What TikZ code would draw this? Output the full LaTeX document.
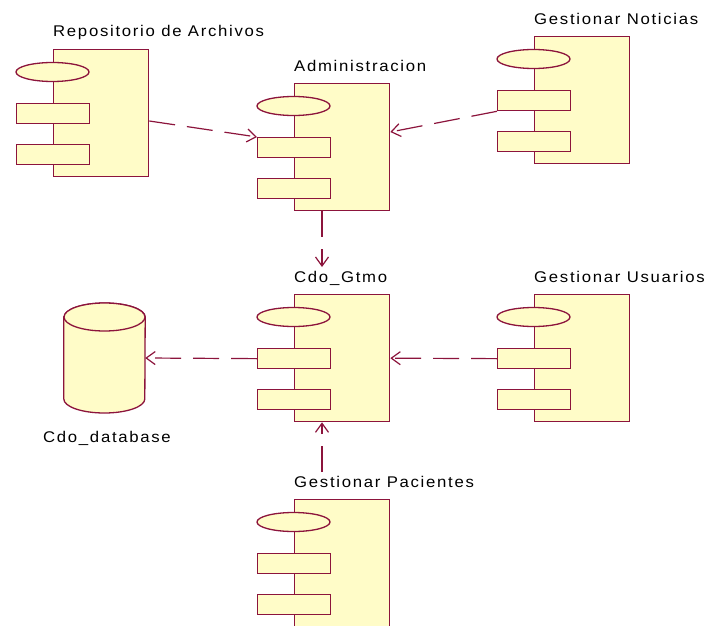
\documentclass[tikz,border=0pt]{standalone}
\usepackage{fontspec}
\usetikzlibrary{shapes.geometric,arrows.meta,calc}
\newfontfamily\lblfont[LetterSpace=11,FakeStretch=1.08]{Liberation Sans}
\definecolor{edgecol}{RGB}{140,20,60}
\definecolor{compfill}{RGB}{255,252,200}
\begin{document}
\begin{tikzpicture}[x=1pt,y=1pt,
  body/.style={draw=edgecol, fill=compfill, line width=1.3pt, inner sep=0pt,
               minimum width=95pt, minimum height=127pt},
  port/.style={draw=edgecol, fill=compfill, line width=1.3pt, inner sep=0pt,
               minimum width=73pt, minimum height=20pt},
  lbl/.style={inner sep=0pt, font=\lblfont\fontsize{15.5}{18}\selectfont, text=black},
  dep/.style={draw=edgecol, line width=1.2pt, dash pattern=on 26pt off 12pt,
              -{Straight Barb[length=9pt,width=13pt,line width=1.2pt]}},
  comp/.pic={
    \node[body, anchor=north west] (-main) at (0,0) {};
    \node[port, ellipse, minimum width=73pt, minimum height=19pt] (-e) at (-0.5,-23) {};
    \node[port, anchor=north west] (-p1) at (-37,-54) {};
    \node[port, anchor=north west] (-p2) at (-37,-95) {};
  }]
\useasboundingbox (0,0) rectangle (715,-626);
\clip (0,0) rectangle (715,-626);
\fill[white] (0,0) rectangle (715,-626);

% components
\pic (rep)  at (53,-49)   {comp};
\pic (adm)  at (294,-83)  {comp};
\pic (noti) at (534,-36)  {comp};
\pic (gtmo) at (294,-294) {comp};
\pic (usr)  at (534,-294) {comp};
\pic (pac)  at (294,-499) {comp};

% component names
\node[lbl, anchor=base west] (rep-lbl)  at (53,-37)   {Repositorio de Archivos};
\node[lbl, anchor=base west] (adm-lbl)  at (294,-71)  {Administracion};
\node[lbl, anchor=base west] (noti-lbl) at (534,-25)  {Gestionar Noticias};
\node[lbl, anchor=base west] (gtmo-lbl) at (294,-282) {Cdo\_Gtmo};
\node[lbl, anchor=base west] (usr-lbl)  at (534,-282) {Gestionar Usuarios};
\node[lbl, anchor=base west] (pac-lbl)  at (294,-487) {Gestionar Pacientes};

% database cylinder
\node[minimum width=81pt, minimum height=110pt, inner sep=0pt] (db) at (104.5,-358) {};
\draw[edgecol, fill=compfill, line width=1.3pt]
  ([yshift=41pt]db.west) -- ([yshift=-41pt]db.west)
  arc[start angle=180, end angle=360, x radius=40.5pt, y radius=14pt]
  -- ([yshift=41pt]db.east)
  arc[start angle=0, end angle=180, x radius=40.5pt, y radius=14pt] -- cycle;
\draw[edgecol, fill=compfill, line width=1.3pt]
  ([yshift=41pt]db.center) ellipse[x radius=40.5pt, y radius=14pt];
\node[lbl, anchor=base] (db-lbl) at (107,-442) {Cdo\_database};

% dependencies
\draw[dep] ($(rep-main.north east)+(0,-72)$) -- (adm-p1.north west);
\draw[dep] (noti-p1.south west) -- ($(adm-main.north east)+(0,-49)$);
\draw[dep] ($(adm-main.south west)+(28,0)$) -- ($(gtmo-main.north west)+(28,27)$);
\draw[dep] (gtmo-p1.west) -- (db.east);
\draw[dep] (usr-p1.west) -- (gtmo-main.east);
\draw[dep] ($(pac-main.north west)+(28,27)$) -- ($(gtmo-main.south west)+(28,0)$);
\end{tikzpicture}
\end{document}
